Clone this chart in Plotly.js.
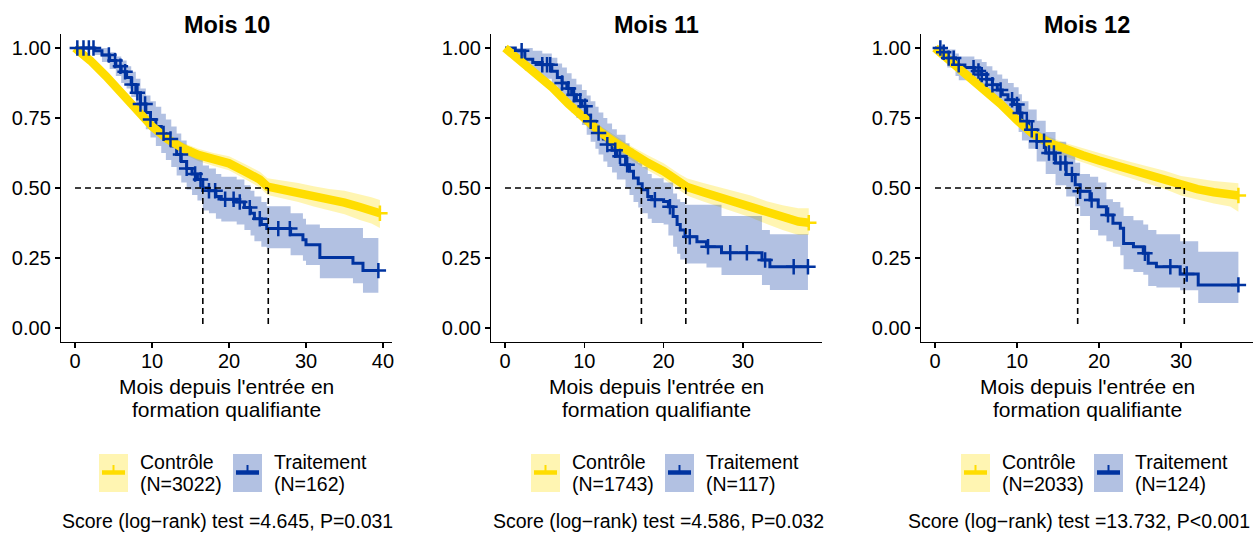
<!DOCTYPE html>
<html>
<head>
<meta charset="utf-8">
<script src="https://cdn.plot.ly/plotly-3.0.1.min.js"></script>
<style>
html,body{margin:0;padding:0;background:#ffffff;}
#chart{width:1254px;height:536px;}
</style>
</head>
<body>
<div id="chart"></div>
<script>
// ---------------- DATA ----------------
const panelTitles = ["Mois 10", "Mois 11", "Mois 12"];
const groupNames = ["Contrôle", "Traitement"];
const nControle = [3022, 1743, 2033];
const nTraitement = [162, 117, 124];
const testStats = ["4.645", "4.586", "13.732"];
const pValues = ["P=0.031", "P=0.032", "P<0.001"];
const xTickVals = [[0, 10, 20, 30, 40], [0, 10, 20, 30], [0, 10, 20, 30]];
const yTickVals = [0, 0.25, 0.5, 0.75, 1];
const yTickText = ["0.00", "0.25", "0.50", "0.75", "1.00"];
const medianControle = [25.1, 22.8, 30.4];
const medianTraitement = [16.6, 17.2, 17.4];
const xAxisTitleLines = ["Mois depuis l'entrée en", "formation qualifiante"];

// Mois 10 - Contrôle
const ctrl10_t = [0, 2, 4, 6, 8, 10, 12, 14, 16, 18, 20, 22, 24, 25, 27, 29, 31, 33, 35, 37, 38.5, 39.6];
const ctrl10_s = [1.0, 0.955, 0.90, 0.838, 0.775, 0.72, 0.675, 0.642, 0.618, 0.602, 0.588, 0.56, 0.53, 0.505, 0.495, 0.484, 0.47, 0.458, 0.448, 0.432, 0.42, 0.41];
const ctrl10_u = [1.0, 0.965, 0.912, 0.852, 0.79, 0.737, 0.693, 0.662, 0.64, 0.625, 0.613, 0.587, 0.558, 0.535, 0.527, 0.518, 0.506, 0.496, 0.49, 0.478, 0.467, 0.457];
const ctrl10_l = [1.0, 0.945, 0.888, 0.824, 0.76, 0.703, 0.657, 0.622, 0.596, 0.579, 0.563, 0.533, 0.502, 0.475, 0.463, 0.45, 0.434, 0.42, 0.406, 0.386, 0.373, 0.357];
// Mois 10 - Traitement
const trt10_t = [0, 2.5, 3.5, 4.5, 5.3, 6.0, 6.7, 7.3, 7.9, 8.5, 9.2, 9.8, 10.5, 11.2, 11.8, 12.5, 13.2, 13.8, 14.5, 15.2, 15.9, 16.6, 17.4, 18.3, 19.0, 21.0, 22.0, 22.8, 23.3, 24.2, 24.9, 28.0, 29.6, 30.0, 31.8, 36.1, 37.4, 39.4];
const trt10_s = [1.0, 0.99, 0.975, 0.955, 0.935, 0.915, 0.895, 0.87, 0.84, 0.80, 0.77, 0.745, 0.72, 0.695, 0.675, 0.65, 0.62, 0.595, 0.57, 0.55, 0.53, 0.50, 0.49, 0.47, 0.46, 0.45, 0.43, 0.41, 0.39, 0.37, 0.355, 0.333, 0.315, 0.297, 0.252, 0.231, 0.205, 0.205];
const trt10_u = [1.0, 1.0, 1.0, 0.985, 0.97, 0.955, 0.935, 0.915, 0.89, 0.855, 0.83, 0.81, 0.79, 0.765, 0.745, 0.72, 0.695, 0.67, 0.645, 0.625, 0.605, 0.58, 0.57, 0.55, 0.54, 0.53, 0.51, 0.49, 0.47, 0.45, 0.435, 0.41, 0.39, 0.37, 0.357, 0.357, 0.321, 0.321];
const trt10_l = [1.0, 0.975, 0.95, 0.925, 0.90, 0.875, 0.855, 0.825, 0.79, 0.745, 0.71, 0.68, 0.65, 0.625, 0.60, 0.575, 0.545, 0.52, 0.495, 0.475, 0.455, 0.42, 0.41, 0.39, 0.38, 0.37, 0.35, 0.33, 0.31, 0.29, 0.285, 0.26, 0.24, 0.225, 0.178, 0.16, 0.126, 0.126];
const trt10_cens = [0.3, 1.1, 1.8, 2.4, 4.4, 5.2, 5.9, 6.5, 7.4, 8.1, 8.5, 9.1, 9.8, 11.5, 12.4, 13.7, 14.5, 15.6, 16.3, 17.4, 18.2, 19.5, 20.6, 21.4, 22.7, 24.0, 26.4, 27.9, 39.4];

// Mois 11 - Contrôle
const ctrl11_t = [0, 2, 4, 6, 8, 10, 12, 14, 16, 18, 20, 22, 23, 25, 27, 29, 31, 33, 35, 37, 38.3];
const ctrl11_s = [1.0, 0.952, 0.905, 0.858, 0.80, 0.748, 0.70, 0.66, 0.623, 0.59, 0.56, 0.52, 0.503, 0.485, 0.468, 0.45, 0.434, 0.412, 0.394, 0.38, 0.376];
const ctrl11_u = [1.0, 0.962, 0.918, 0.873, 0.818, 0.768, 0.722, 0.684, 0.648, 0.617, 0.588, 0.55, 0.534, 0.518, 0.503, 0.487, 0.473, 0.453, 0.438, 0.428, 0.428];
const ctrl11_l = [1.0, 0.942, 0.892, 0.843, 0.782, 0.728, 0.678, 0.636, 0.598, 0.563, 0.532, 0.49, 0.472, 0.452, 0.433, 0.413, 0.395, 0.371, 0.35, 0.332, 0.332];
// Mois 11 - Traitement
const trt11_t = [0, 1.3, 2.5, 3.5, 4.7, 5.9, 6.6, 7.2, 7.8, 8.4, 9.0, 9.7, 10.3, 10.8, 11.4, 11.8, 12.4, 12.9, 13.5, 14.1, 15.2, 15.7, 16.2, 16.8, 17.3, 18.0, 18.5, 20.0, 20.6, 21.2, 21.7, 22.1, 22.7, 24.2, 25.4, 27.3, 32.4, 33.4, 38.2];
const trt11_s = [1.0, 0.99, 0.96, 0.948, 0.94, 0.917, 0.895, 0.875, 0.855, 0.833, 0.812, 0.792, 0.76, 0.738, 0.715, 0.696, 0.675, 0.655, 0.635, 0.613, 0.583, 0.56, 0.536, 0.515, 0.494, 0.47, 0.458, 0.452, 0.433, 0.398, 0.37, 0.35, 0.326, 0.308, 0.29, 0.269, 0.243, 0.219, 0.219];
const trt11_u = [1.0, 1.0, 1.0, 0.99, 0.98, 0.965, 0.945, 0.93, 0.91, 0.89, 0.87, 0.85, 0.83, 0.81, 0.79, 0.77, 0.75, 0.73, 0.71, 0.69, 0.66, 0.64, 0.615, 0.59, 0.575, 0.55, 0.535, 0.52, 0.52, 0.48, 0.46, 0.45, 0.44, 0.44, 0.44, 0.40, 0.35, 0.335, 0.335];
const trt11_l = [1.0, 0.97, 0.92, 0.905, 0.89, 0.865, 0.84, 0.82, 0.795, 0.77, 0.75, 0.725, 0.69, 0.665, 0.64, 0.62, 0.595, 0.575, 0.555, 0.53, 0.50, 0.475, 0.45, 0.43, 0.41, 0.39, 0.375, 0.37, 0.33, 0.29, 0.265, 0.245, 0.23, 0.23, 0.216, 0.189, 0.154, 0.136, 0.136];
const trt11_cens = [2.1, 4.7, 5.3, 5.7, 7.2, 8.0, 8.7, 9.5, 10.1, 10.8, 11.8, 12.9, 13.9, 14.5, 15.4, 18.9, 20.8, 23.3, 25.6, 28.4, 30.5, 32.8, 36.4, 38.2];

// Mois 12 - Contrôle
const ctrl12_t = [0, 2, 4, 6, 8, 10, 12, 14, 16, 18, 20, 22, 24, 26, 28, 30, 32, 34, 36, 37];
const ctrl12_s = [1.0, 0.952, 0.905, 0.857, 0.80, 0.742, 0.692, 0.66, 0.636, 0.617, 0.598, 0.58, 0.563, 0.546, 0.529, 0.508, 0.496, 0.485, 0.477, 0.473];
const ctrl12_u = [1.0, 0.962, 0.917, 0.871, 0.816, 0.76, 0.712, 0.682, 0.66, 0.642, 0.625, 0.608, 0.592, 0.577, 0.562, 0.543, 0.533, 0.525, 0.52, 0.517];
const ctrl12_l = [1.0, 0.942, 0.893, 0.843, 0.784, 0.724, 0.672, 0.638, 0.612, 0.592, 0.571, 0.552, 0.534, 0.515, 0.496, 0.473, 0.459, 0.445, 0.434, 0.415];
// Mois 12 - Traitement
const trt12_t = [0, 0.9, 1.5, 2.5, 2.9, 4.8, 5.7, 6.3, 7.0, 7.6, 8.2, 8.9, 9.6, 10.2, 10.6, 11.4, 12.4, 13.5, 14.7, 16.0, 17.1, 17.7, 18.9, 19.9, 20.9, 21.7, 22.6, 23.0, 24.2, 25.4, 26.0, 27.0, 29.9, 32.1, 37.0];
const trt12_s = [1.0, 0.985, 0.964, 0.94, 0.93, 0.918, 0.905, 0.888, 0.869, 0.85, 0.833, 0.815, 0.798, 0.768, 0.738, 0.708, 0.667, 0.625, 0.589, 0.548, 0.512, 0.488, 0.457, 0.433, 0.404, 0.374, 0.356, 0.302, 0.29, 0.267, 0.231, 0.219, 0.193, 0.154, 0.154];
const trt12_u = [1.0, 1.0, 0.995, 0.98, 0.97, 0.96, 0.95, 0.935, 0.92, 0.905, 0.89, 0.875, 0.86, 0.835, 0.81, 0.78, 0.74, 0.70, 0.665, 0.625, 0.59, 0.55, 0.54, 0.52, 0.46, 0.45, 0.43, 0.40, 0.385, 0.37, 0.35, 0.335, 0.31, 0.272, 0.272];
const trt12_l = [1.0, 0.96, 0.93, 0.90, 0.885, 0.87, 0.855, 0.835, 0.815, 0.795, 0.775, 0.755, 0.735, 0.70, 0.67, 0.64, 0.595, 0.55, 0.51, 0.47, 0.435, 0.40, 0.35, 0.33, 0.31, 0.29, 0.26, 0.21, 0.20, 0.19, 0.15, 0.145, 0.135, 0.089, 0.089];
const trt12_cens = [0.65, 1.06, 1.67, 2.28, 2.89, 4.7, 5.3, 5.7, 6.3, 7.0, 8.0, 9.4, 10.0, 10.4, 11.2, 11.8, 12.4, 13.3, 13.9, 14.5, 15.3, 15.9, 16.7, 17.7, 19.1, 21.1, 25.6, 28.7, 30.7, 37.0];

// ---------------- STYLE / LAYOUT ----------------
const W = 1254, H = 536;
const FONT = "Liberation Sans, Arial, sans-serif";
const YEL = "#FFDD00", YEL_FILL = "rgba(255,221,0,0.3)";
const BLU = "#0033A0", BLU_FILL = "rgba(0,51,160,0.3)";
const panelPx = [[61, 392], [491, 822], [921, 1253]];
const xRanges = [[-1.82, 41.17], [-1.765, 39.97], [-1.707, 38.78]];
const plotTopPx = 34, plotBotPx = 342;
const legendYellowX = [99, 531, 961];
const legendBlueX = [233, 665, 1094];
const testCenterX = [227, 658, 1079];
const TICK_SIZE = 20, TITLE_SIZE = 21, LEG_SIZE = 19.5, TEST_SIZE = 19.5, HEAD_SIZE = 23.5;

const px = x => x / W;
const py = y => 1 - y / H;

const panels = [
  {ct: ctrl10_t, cs: ctrl10_s, cu: ctrl10_u, cl: ctrl10_l, tt: trt10_t, ts: trt10_s, tu: trt10_u, tl: trt10_l, tc: trt10_cens},
  {ct: ctrl11_t, cs: ctrl11_s, cu: ctrl11_u, cl: ctrl11_l, tt: trt11_t, ts: trt11_s, tu: trt11_u, tl: trt11_l, tc: trt11_cens},
  {ct: ctrl12_t, cs: ctrl12_s, cu: ctrl12_u, cl: ctrl12_l, tt: trt12_t, ts: trt12_s, tu: trt12_u, tl: trt12_l, tc: trt12_cens}
];

function stepValue(t, s, c) {
  let v = s[0];
  for (let i = 0; i < t.length; i++) { if (t[i] <= c) v = s[i]; }
  return v;
}

const traces = [];
const layout = {
  width: W, height: H,
  margin: {l: 0, r: 0, t: 0, b: 0},
  paper_bgcolor: "#ffffff", plot_bgcolor: "#ffffff",
  showlegend: false,
  font: {family: FONT, size: 18, color: "#000000"},
  annotations: [], shapes: []
};

function txt(x, y, text, size, anchor) {
  return {xref: "paper", yref: "paper", x: px(x), y: py(y), xanchor: anchor || "center", yanchor: "middle",
    showarrow: false, text: text, font: {family: FONT, size: size, color: "#000000"}};
}

panels.forEach((p, i) => {
  const k = i === 0 ? "" : String(i + 1);
  const xa = "x" + k, ya = "y" + k;
  // control band
  traces.push({x: p.ct, y: p.cu, xaxis: xa, yaxis: ya, mode: "lines", line: {width: 0, color: YEL}, hoverinfo: "skip"});
  traces.push({x: p.ct, y: p.cl, xaxis: xa, yaxis: ya, mode: "lines", line: {width: 0, color: YEL}, fill: "tonexty", fillcolor: YEL_FILL, hoverinfo: "skip"});
  // treatment band
  traces.push({x: p.tt, y: p.tu, xaxis: xa, yaxis: ya, mode: "lines", line: {width: 0, color: BLU, shape: "hv"}, hoverinfo: "skip"});
  traces.push({x: p.tt, y: p.tl, xaxis: xa, yaxis: ya, mode: "lines", line: {width: 0, color: BLU, shape: "hv"}, fill: "tonexty", fillcolor: BLU_FILL, hoverinfo: "skip"});
  // treatment curve
  traces.push({x: p.tt, y: p.ts, xaxis: xa, yaxis: ya, mode: "lines", line: {width: 3, color: BLU, shape: "hv"}, name: groupNames[1]});
  // control curve (dense censoring gives a thick look)
  traces.push({x: p.ct, y: p.cs, xaxis: xa, yaxis: ya, mode: "lines", line: {width: 8.5, color: YEL}, name: groupNames[0]});
  // control last censor
  traces.push({x: [p.ct[p.ct.length - 1]], y: [p.cs[p.cs.length - 1]], xaxis: xa, yaxis: ya, mode: "markers",
    marker: {symbol: "cross-thin", size: 11, color: YEL, line: {width: 2.5, color: YEL}}, hoverinfo: "skip"});
  // treatment censor marks
  traces.push({x: p.tc, y: p.tc.map(c => stepValue(p.tt, p.ts, c)), xaxis: xa, yaxis: ya, mode: "markers",
    marker: {symbol: "cross-thin", size: 11, color: BLU, line: {width: 2.5, color: BLU}}, hoverinfo: "skip"});
  // median lines
  const mC = medianControle[i], mT = medianTraitement[i];
  const mMax = Math.max(mC, mT);
  traces.push({x: [0, mMax, null, mT, mT, null, mC, mC], y: [0.5, 0.5, null, 0.5, 0, null, 0.5, 0],
    xaxis: xa, yaxis: ya, mode: "lines", line: {width: 1.6, color: "#000000", dash: "6px,4px"}, hoverinfo: "skip", connectgaps: false});

  const dom = [px(panelPx[i][0]), px(panelPx[i][1])];
  const cx = (panelPx[i][0] + panelPx[i][1]) / 2;
  layout["xaxis" + k] = {
    domain: dom, range: xRanges[i], anchor: ya,
    tickmode: "array", tickvals: xTickVals[i], ticktext: xTickVals[i].map(String),
    showline: true, linecolor: "#000000", linewidth: 1.2, mirror: false,
    ticks: "outside", ticklen: 5, tickwidth: 1.2, tickcolor: "#000000",
    ticklabelstandoff: -4,
    showgrid: false, zeroline: false,
    tickfont: {family: FONT, size: TICK_SIZE, color: "#000000"},
    fixedrange: true
  };
  layout["yaxis" + k] = {
    domain: [py(plotBotPx), py(plotTopPx)], range: [-0.05, 1.05], anchor: xa,
    tickmode: "array", tickvals: yTickVals, ticktext: yTickText,
    showline: true, linecolor: "#000000", linewidth: 1.2,
    ticks: "outside", ticklen: 5, tickwidth: 1.2, tickcolor: "#000000",
    showgrid: false, zeroline: false,
    tickfont: {family: FONT, size: TICK_SIZE, color: "#000000"},
    fixedrange: true
  };

  // panel title
  layout.annotations.push(txt(cx, 25, "<b>" + panelTitles[i] + "</b>", HEAD_SIZE));
  // x axis title (two lines)
  layout.annotations.push(txt(cx, 386, xAxisTitleLines[0], TITLE_SIZE));
  layout.annotations.push(txt(cx, 409, xAxisTitleLines[1], TITLE_SIZE));

  // legend (manual, below panel)
  const items = [
    {x0: legendYellowX[i], fill: YEL_FILL, col: YEL, l1: groupNames[0], l2: "(N=" + nControle[i] + ")"},
    {x0: legendBlueX[i], fill: BLU_FILL, col: BLU, l1: groupNames[1], l2: "(N=" + nTraitement[i] + ")"}
  ];
  items.forEach(it => {
    layout.shapes.push({type: "rect", xref: "paper", yref: "paper", x0: px(it.x0), x1: px(it.x0 + 29), y0: py(492), y1: py(454),
      fillcolor: it.fill, line: {width: 0}});
    layout.shapes.push({type: "line", xref: "paper", yref: "paper", x0: px(it.x0 + 3), x1: px(it.x0 + 26), y0: py(472.5), y1: py(472.5),
      line: {color: it.col, width: 4.5}});
    layout.shapes.push({type: "line", xref: "paper", yref: "paper", x0: px(it.x0 + 14.5), x1: px(it.x0 + 14.5), y0: py(465), y1: py(472.5),
      line: {color: it.col, width: 2}});
    layout.annotations.push(txt(it.x0 + 39, 462, it.l1, LEG_SIZE, "left"));
    layout.annotations.push(txt(it.x0 + 39, 484, it.l2, LEG_SIZE, "left"));
  });

  // test text
  layout.annotations.push(txt(testCenterX[i], 521, "Score (log\u2212rank) test =" + testStats[i] + ", " + pValues[i], TEST_SIZE));
});

Plotly.newPlot("chart", traces, layout, {staticPlot: true, displayModeBar: false});
</script>
</body>
</html>
